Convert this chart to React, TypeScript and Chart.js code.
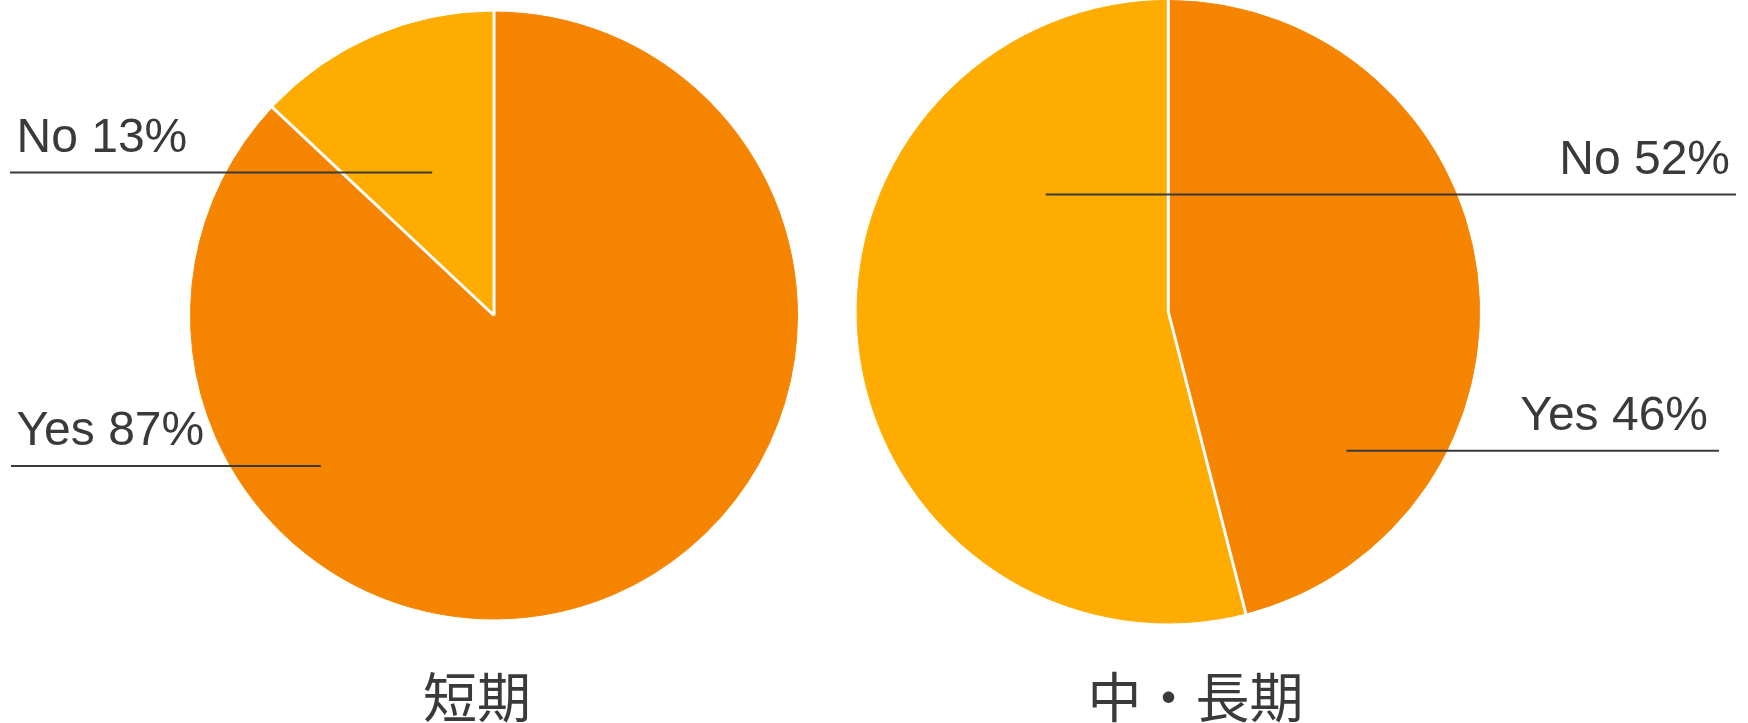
import React, { useEffect, useRef } from 'react';
import { Chart, registerables } from 'chart.js';

Chart.register(...registerables);

const W = 1748;
const H = 723;

// ---- data ----
const SHORT_CATEGORIES = ['Yes', 'No'];
const SHORT_VALUES = [87, 13];
const LONG_CATEGORIES = ['Yes', 'No', 'Other'];
const LONG_VALUES = [46, 52, 2];
const CHART_TITLES = ['短期', '中・長期'];

// ---- styles ----
const SLICE_COLORS = ['#F58500', '#FFAC00', '#FFAC00'];
const TEXT_COLOR = '#3a3a3a';
const SEPARATOR = 3;
const LABEL_FONT = '48px "Liberation Sans", Arial, sans-serif';
const TITLE_FONT = '54px "Noto Sans CJK JP", "Liberation Sans", sans-serif';

type LabelLayout = {
  side: 'left' | 'right';
  angle: number; // degrees clockwise from top, anchor inside slice
  frac: number; // fraction of radius
  textX: number;
  lineX: number;
};

type PieLayout = {
  cx: number;
  cy: number;
  r: number;
  titleX: number;
  titleY: number;
  labels: (LabelLayout | null)[];
};

const LEFT_LAYOUT: PieLayout = {
  cx: 494,
  cy: 315.5,
  r: 304,
  titleX: 477,
  titleY: 697,
  labels: [
    { side: 'left', angle: 229, frac: 0.756, textX: 16.5, lineX: 11 },
    { side: 'left', angle: 336.6, frac: 0.513, textX: 16.5, lineX: 10 },
  ],
};

const RIGHT_LAYOUT: PieLayout = {
  cx: 1168.3,
  cy: 311.5,
  r: 312,
  titleX: 1195.6,
  titleY: 697,
  labels: [
    { side: 'right', angle: 128, frac: 0.726, textX: 1708, lineX: 1719 },
    { side: 'right', angle: 313.7, frac: 0.545, textX: 1730, lineX: 1736 },
    null,
  ],
};

const pieLabelPlugin = {
  id: 'pieLabels',
  afterDatasetsDraw(chart: any) {
    // white separators between slices of differing colour
    const ctx = chart.ctx as CanvasRenderingContext2D;
    const meta = chart.getDatasetMeta(0);
    const arcs = meta.data as any[];
    const colors = chart.data.datasets[0].backgroundColor as string[];
    ctx.save();
    ctx.strokeStyle = '#ffffff';
    ctx.lineWidth = SEPARATOR;
    ctx.lineCap = 'butt';
    arcs.forEach((arc, i) => {
      const prev = (i - 1 + arcs.length) % arcs.length;
      if (colors[prev] === colors[i]) return;
      const { x, y, outerRadius, startAngle } = arc.getProps(
        ['x', 'y', 'outerRadius', 'startAngle'],
        true
      );
      ctx.beginPath();
      ctx.moveTo(x, y);
      ctx.lineTo(
        x + (outerRadius + 2) * Math.cos(startAngle),
        y + (outerRadius + 2) * Math.sin(startAngle)
      );
      ctx.stroke();
    });
    ctx.restore();
  },
  afterDraw(chart: any, _args: any, opts: any) {
    const layout: PieLayout = opts.layout;
    const title: string = opts.title;
    const ctx = chart.ctx as CanvasRenderingContext2D;
    const meta = chart.getDatasetMeta(0);
    const arc0 = meta.data[0] as any;
    const { x, y, outerRadius } = arc0.getProps(['x', 'y', 'outerRadius'], true);
    const rv = outerRadius;
    const labels = chart.data.labels as string[];
    const values = chart.data.datasets[0].data as number[];
    ctx.save();
    layout.labels.forEach((l, i) => {
      if (!l) return;
      const a = (l.angle * Math.PI) / 180;
      const ax = x + l.frac * rv * Math.sin(a);
      const ay = y - l.frac * rv * Math.cos(a);
      ctx.strokeStyle = TEXT_COLOR;
      ctx.lineWidth = 2;
      ctx.beginPath();
      ctx.moveTo(l.lineX, ay);
      ctx.lineTo(ax, ay);
      ctx.stroke();
      ctx.fillStyle = TEXT_COLOR;
      ctx.font = LABEL_FONT;
      ctx.textBaseline = 'alphabetic';
      ctx.textAlign = l.side === 'left' ? 'left' : 'right';
      ctx.fillText(`${labels[i]} ${values[i]}%`, l.textX, ay - 21);
    });
    ctx.font = TITLE_FONT;
    ctx.fillStyle = TEXT_COLOR;
    ctx.textAlign = 'center';
    ctx.textBaseline = 'middle';
    ctx.fillText(title, layout.titleX, layout.titleY);
    ctx.restore();
  },
};

function PieCanvas({
  categories,
  values,
  layout,
  title,
}: {
  categories: string[];
  values: number[];
  layout: PieLayout;
  title: string;
}) {
  const ref = useRef<HTMLCanvasElement>(null);
  useEffect(() => {
    if (!ref.current) return;
    const side = 2 * layout.r;
    const left = layout.cx - side / 2;
    const top = layout.cy - side / 2;
    const colors = SLICE_COLORS.slice(0, values.length);
    const chart = new Chart(ref.current, {
      type: 'pie',
      data: {
        labels: categories,
        datasets: [
          {
            data: values,
            backgroundColor: colors,
            // thin border in each slice's own colour hides antialias seams
            borderColor: colors,
            borderWidth: 1,
            hoverOffset: 0,
            offset: 0,
          } as any,
        ],
      },
      options: {
        animation: false,
        responsive: false,
        devicePixelRatio: 1,
        events: [],
        layout: {
          padding: {
            left,
            top,
            right: W - (left + side),
            bottom: H - (top + side),
          },
        },
        plugins: {
          legend: { display: false },
          tooltip: { enabled: false },
          title: { display: false },
          pieLabels: { layout, title },
        } as any,
      },
      plugins: [pieLabelPlugin as any],
    });
    return () => chart.destroy();
  }, []);
  return (
    <canvas
      ref={ref}
      width={W}
      height={H}
      style={{ position: 'absolute', left: 0, top: 0, width: W, height: H }}
    />
  );
}

export default function App() {
  useEffect(() => {
    document.body.style.margin = '0';
  }, []);
  return (
    <div
      style={{
        position: 'absolute',
        left: 0,
        top: 0,
        width: W,
        height: H,
        background: '#ffffff',
        overflow: 'hidden',
      }}
    >
      <PieCanvas
        categories={SHORT_CATEGORIES}
        values={SHORT_VALUES}
        layout={LEFT_LAYOUT}
        title={CHART_TITLES[0]}
      />
      <PieCanvas
        categories={LONG_CATEGORIES}
        values={LONG_VALUES}
        layout={RIGHT_LAYOUT}
        title={CHART_TITLES[1]}
      />
    </div>
  );
}
